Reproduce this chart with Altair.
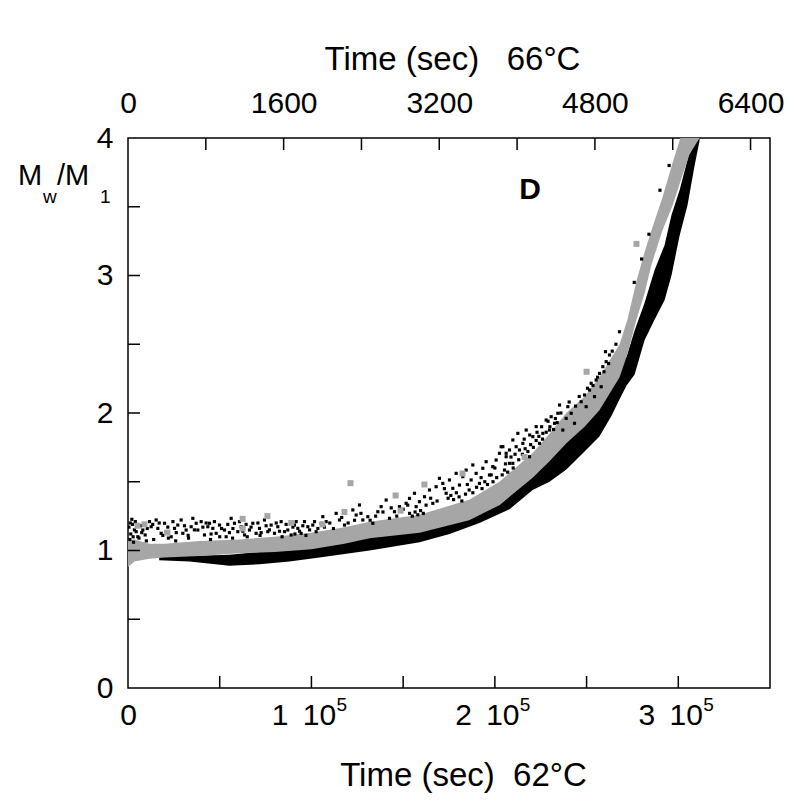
import altair as alt
import pandas as pd

FONT = "Liberation Sans"
GRAY = "#a6a6a6"

# ---- gray series (band): time (s), lower / upper Mw/M1
gray_t = [0, 3500, 11700, 20000, 39000, 60800, 79900, 100000, 118000, 131700,
          159000, 186000, 202500, 220600, 229800, 239000, 248900, 257000, 268000, 272300,
          277200, 281600, 285400, 291400, 296900, 302300, 306100, 311600]
gray_lo = [0.88, 0.92, 0.94, 0.95, 0.96, 0.98, 0.99, 1.01, 1.05, 1.09,
           1.13, 1.22, 1.33, 1.53, 1.65, 1.78, 1.90, 2.02, 2.26, 2.43,
           2.68, 2.87, 3.08, 3.33, 3.51, 3.73, 3.88, 4.00]
gray_hi = [1.08, 1.08, 1.05, 1.05, 1.07, 1.08, 1.10, 1.13, 1.17, 1.21,
           1.26, 1.37, 1.50, 1.71, 1.85, 2.00, 2.12, 2.26, 2.50, 2.68,
           2.96, 3.17, 3.33, 3.57, 3.82, 4.05, 4.10, 4.10]

# ---- black series (dense lower band)
black_t = [17000, 33500, 55300, 71700, 88000, 104400, 131700, 159000, 175300, 191600,
           208000, 220600, 229800, 239000, 248900, 257000, 263600, 268000, 271800, 276200,
           281600, 287100, 292500, 296300, 300700, 305000, 308900, 311600]
black_lo = [0.93, 0.92, 0.89, 0.90, 0.92, 0.95, 1.00, 1.06, 1.12, 1.20,
            1.30, 1.44, 1.50, 1.59, 1.72, 1.83, 1.98, 2.10, 2.20, 2.28,
            2.53, 2.68, 2.82, 3.00, 3.29, 3.51, 3.80, 3.98]
black_hi = [0.96, 0.96, 0.97, 0.99, 1.00, 1.05, 1.10, 1.15, 1.20, 1.30,
            1.40, 1.56, 1.68, 1.80, 1.95, 2.12, 2.25, 2.36, 2.41, 2.60,
            2.80, 3.04, 3.22, 3.44, 3.62, 3.84, 4.05, 4.10]

# ---- black scattered points (time, Mw/M1)
black_dots = [
    (500, 1.17), (1500, 1.12), (2090, 1.227), (2500, 1.19), (3500, 1.15), (4450, 1.137),
    (5360, 1.100), (8080, 1.149), (9360, 1.113), (11720, 1.210), (12630, 1.173),
    (15350, 1.222), (16260, 1.161), (18080, 1.125), (19900, 1.198), (20800, 1.137),
    (23530, 1.100), (25350, 1.161), (27160, 1.185), (28980, 1.222), (29890, 1.125),
    (31700, 1.149), (34430, 1.173), (35340, 1.234), (37160, 1.198), (38070, 1.149),
    (39880, 1.210), (41700, 1.113), (43520, 1.173), (44430, 1.198), (46240, 1.161),
    (48060, 1.125), (49880, 1.185), (52600, 1.149), (53510, 1.100), (56240, 1.234),
    (58050, 1.198), (59870, 1.137), (61690, 1.173), (63500, 1.113), (66230, 1.149),
    (68050, 1.198), (69860, 1.125), (71680, 1.161), (74400, 1.222), (76220, 1.137),
    (78040, 1.185), (79860, 1.125), (81670, 1.173), (83490, 1.210), (85310, 1.137),
    (87120, 1.149), (88940, 1.113), (90760, 1.185), (92580, 1.161), (94390, 1.125),
    (96210, 1.210), (98030, 1.173), (100750, 1.185), (102570, 1.137), (105300, 1.198),
    (1000, 1.08), (3000, 1.06), (6000, 1.09), (10000, 1.07), (14000, 1.08), (22000, 1.09),
    (26000, 1.07), (33000, 1.09), (45000, 1.08), (50000, 1.10), (57000, 1.09),
    (65000, 1.10), (72000, 1.11), (84000, 1.10), (91000, 1.12), (97000, 1.11),
    (1200, 1.20), (2800, 1.10), (4000, 1.21), (6800, 1.18), (7500, 1.13), (10500, 1.16),
    (13500, 1.19), (17000, 1.20), (19000, 1.11), (21700, 1.17), (24500, 1.21),
    (26300, 1.13), (30800, 1.18), (32800, 1.11), (36200, 1.15), (40800, 1.17),
    (42600, 1.20), (45300, 1.12), (47100, 1.21), (51000, 1.16), (54400, 1.19),
    (55300, 1.13), (57200, 1.16), (60800, 1.21), (62600, 1.14), (64400, 1.19),
    (67100, 1.17), (70800, 1.20), (72600, 1.13), (75300, 1.18), (77100, 1.15),
    (80800, 1.20), (82600, 1.14), (86200, 1.19), (89900, 1.17), (91700, 1.21),
    (93500, 1.14), (95300, 1.18), (99000, 1.15), (101700, 1.21), (103500, 1.16),
    (106220, 1.246), (108030, 1.210), (113490, 1.270), (115300, 1.222), (118030, 1.185),
    (122570, 1.295), (124390, 1.258), (126200, 1.331), (128020, 1.222), (130750, 1.246),
    (133470, 1.198), (136200, 1.282), (138010, 1.319), (140740, 1.367), (142560, 1.234),
    (145280, 1.282), (148010, 1.319), (151640, 1.343), (153460, 1.379), (156180, 1.416),
    (157090, 1.319), (158910, 1.355), (161640, 1.391), (164360, 1.440), (166180, 1.343),
    (167990, 1.464), (169810, 1.525), (171630, 1.488), (173450, 1.416), (175260, 1.513),
    (177080, 1.452), (178900, 1.561), (180710, 1.476), (182530, 1.537), (184350, 1.585),
    (187070, 1.513), (187980, 1.622), (189800, 1.561), (191620, 1.488), (193430, 1.598),
    (195250, 1.646), (197070, 1.549), (198880, 1.610), (200700, 1.658), (202520, 1.707),
    (203430, 1.755), (205250, 1.585), (206160, 1.682), (207980, 1.731), (209790, 1.634),
    (211610, 1.755),
    (107100, 1.17), (110000, 1.20), (112000, 1.16), (116500, 1.24), (120000, 1.20),
    (123500, 1.22), (127000, 1.27), (132000, 1.22), (135000, 1.25), (139000, 1.28),
    (143500, 1.31), (146500, 1.25), (150000, 1.30), (152500, 1.33), (162500, 1.33),
    (165000, 1.38), (168500, 1.36), (172500, 1.45), (174500, 1.38), (185000, 1.48),
    (192500, 1.53), (194500, 1.50), (198000, 1.55), (200000, 1.60), (205800, 1.63),
    (208800, 1.68), (211000, 1.70), (213000, 1.66),
    (153500, 1.27), (155000, 1.25), (156500, 1.28), (158000, 1.26), (159500, 1.29),
    (161000, 1.27), (176000, 1.40), (177500, 1.37), (179000, 1.42), (180500, 1.39),
    (182000, 1.36), (184000, 1.41), (186000, 1.44), (188000, 1.42), (190000, 1.46),
    (193000, 1.45), (196000, 1.48), (199000, 1.50), (201000, 1.53), (204000, 1.55),
    (207000, 1.57), (210000, 1.60),
    (204360, 1.755), (206170, 1.707), (207990, 1.634), (209810, 1.804), (212530, 1.852),
    (213440, 1.731), (215260, 1.779), (217080, 1.876), (218890, 1.682), (220710, 1.828),
    (222530, 1.901), (224340, 1.779), (226160, 1.852), (227980, 1.949), (229800, 1.876),
    (230700, 1.973), (232520, 1.925), (234340, 1.998), (235250, 2.058), (237060, 1.876),
    (238880, 1.961), (239790, 2.046), (241610, 1.998), (243420, 1.925), (247060, 2.082),
    (248870, 2.131), (249780, 2.046), (251600, 2.167), (252510, 2.216), (254330, 2.119),
    (255230, 2.240), (257050, 2.288), (257960, 2.191), (258870, 2.337), (260690, 2.373),
    (260320, 2.446), (262500, 2.422), (267950, 2.591),
    (215000, 1.70), (216500, 1.74), (218000, 1.72), (219500, 1.77), (221000, 1.75),
    (222500, 1.80), (224000, 1.83), (226000, 1.81), (228000, 1.86), (230000, 1.90),
    (232000, 1.88), (234000, 1.93),
    (216000, 1.81), (219000, 1.84), (223000, 1.86), (225500, 1.90), (229000, 1.94),
    (233000, 1.96), (236000, 2.00), (240500, 2.08), (244000, 2.05), (246000, 2.12),
    (250500, 2.18), (253500, 2.20), (256000, 2.26), (259500, 2.30), (262000, 2.36),
    (264000, 2.45), (266000, 2.50),
    (276000, 2.95), (280000, 3.12), (284000, 3.30), (290000, 3.62), (295000, 3.80),
]

# ---- isolated gray points
gray_dots = [
    (5200, 1.18), (9000, 1.19), (21500, 1.13), (62500, 1.23), (62500, 1.16), (76000, 1.25),
    (89000, 1.20), (106000, 1.19), (118000, 1.28), (121300, 1.49), (145900, 1.40),
    (148600, 1.29), (161600, 1.48), (182400, 1.56), (216200, 1.68), (250000, 2.30),
    (277200, 3.23),
]

# ---- axes
bottom_ticks = [50000, 100000, 150000, 200000, 250000, 300000]
bottom_labels = [0, 100000, 200000, 300000]
bottom_exponent = [100000, 200000, 300000]
top_ticks = [800, 1600, 2400, 3200, 4000, 4800, 5600, 6400]
top_labels = [0, 1600, 3200, 4800, 6400]
y_ticks = [0.5, 1, 1.5, 2, 2.5, 3, 3.5]
y_labels = [0, 1, 2, 3, 4]

df_gray = pd.DataFrame({"t": gray_t, "lo": gray_lo, "hi": gray_hi})
df_black = pd.DataFrame({"t": black_t, "lo": black_lo, "hi": black_hi})
df_bd = pd.DataFrame(black_dots, columns=["t", "y"])
df_gd = pd.DataFrame(gray_dots, columns=["t", "y"])

xs = alt.Scale(domain=[0, 350000], nice=False, zero=False)
ys = alt.Scale(domain=[0, 4], nice=False)
xt = alt.Scale(domain=[0, 6600], nice=False, zero=False)

x_axis = alt.Axis(
    orient="bottom", values=bottom_labels,
    labelExpr="datum.value == 0 ? '0' : format(datum.value / 100000, 'd') + '\u2009 10'",
    labelOffset={"condition": {"test": "datum.value == 0", "value": 0}, "value": -8},
    ticks=False, domain=False, grid=False, labelFlush=False, labelOverlap=False,
    labelFont=FONT, labelFontSize=30, labelColor="black", labelPadding=12,
    title="Time (sec)\u00a0 62\u00b0C", titleFont=FONT, titleFontSize=33,
    titleFontWeight="normal", titleColor="black", titleX=335, titleY=97,
    titleBaseline="alphabetic",
)
y_axis = alt.Axis(
    orient="left", values=y_labels, format="d", ticks=False, domain=False, grid=False,
    labelFont=FONT, labelFontSize=30, labelColor="black", labelPadding=15, title=None,
)
top_axis = alt.Axis(
    orient="top", values=top_labels, format="d", ticks=False, domain=False, grid=False,
    labelFlush=False, labelOverlap=False,
    labelFont=FONT, labelFontSize=30, labelColor="black", labelPadding=20,
    title="Time (sec)\u00a0\u00a0 66\u00b0C", titleFont=FONT, titleFontSize=33,
    titleFontWeight="normal", titleColor="black", titleX=324, titleY=-69,
    titleBaseline="alphabetic",
)


def X(field):
    return alt.X(field, scale=xs, axis=x_axis)


def Y(field):
    return alt.Y(field, scale=ys, axis=y_axis)


black_band = alt.Chart(df_black).mark_area(color="black", clip=True).encode(
    x=X("t:Q"), y=Y("lo:Q"), y2="hi:Q",
)
gray_band = alt.Chart(df_gray).mark_area(color=GRAY, clip=True).encode(
    x=X("t:Q"), y=Y("lo:Q"), y2="hi:Q",
)
bdots = alt.Chart(df_bd).mark_square(size=10, color="black", opacity=1, clip=True).encode(
    x=X("t:Q"), y=Y("y:Q"),
)
gdots = alt.Chart(df_gd).mark_square(size=36, color=GRAY, opacity=1, clip=True).encode(
    x=X("t:Q"), y=Y("y:Q"),
)
bt_rules = alt.Chart(pd.DataFrame({"t": bottom_ticks})).mark_rule(color="black", strokeWidth=1.5).encode(
    x=X("t:Q"), y=alt.value(550), y2=alt.value(538),
)
yt_rules = alt.Chart(pd.DataFrame({"v": y_ticks})).mark_rule(color="black", strokeWidth=1.5).encode(
    y=Y("v:Q"), x=alt.value(0), x2=alt.value(12),
)
# superscript "5" of the "n 10^5" labels
sup = alt.Chart(pd.DataFrame({"t": bottom_exponent, "s": ["5"] * len(bottom_exponent)})).mark_text(
    font=FONT, fontSize=19, color="black", align="left", baseline="alphabetic", dx=25,
).encode(x=X("t:Q"), y=alt.value(573), text="s:N")

inner = alt.layer(black_band, gray_band, bdots, gdots, bt_rules, yt_rules, sup)

top_rules = alt.Chart(pd.DataFrame({"t": top_ticks})).mark_rule(color="black", strokeWidth=1.5).encode(
    x=alt.X("t:Q", scale=xt, axis=top_axis),
    y=alt.value(0), y2=alt.value(12),
)


def label(txt, x, y, size=28, weight="normal", align="left", baseline="alphabetic"):
    return alt.Chart(pd.DataFrame({"s": [txt]})).mark_text(
        font=FONT, fontSize=size, fontWeight=weight, color="black",
        align=align, baseline=baseline,
    ).encode(text="s:N", x=alt.value(x), y=alt.value(y))


ytitle = [
    label("M", -110, 47, size=29),
    label("w", -85, 65, size=19),
    label("/M", -71, 47, size=29),
    label("1", -28, 65, size=19),
]
panel = label("D", 402, 52, size=30, weight="bold", align="center", baseline="middle")

chart = alt.layer(inner, top_rules, *ytitle, panel).resolve_scale(x="independent").properties(
    width=642, height=550,
    autosize=alt.AutoSizeParams(type="none"),
    padding={"left": 120, "top": 130, "right": 20, "bottom": 115},
).configure_view(stroke="black", strokeWidth=1.5)

chart.save("out.html", embed_options={"renderer": "svg", "actions": False})
